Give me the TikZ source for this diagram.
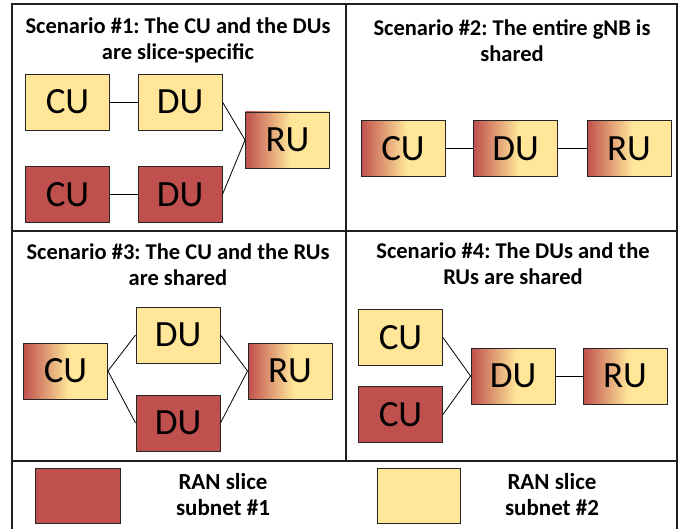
\documentclass[tikz,border=0pt]{standalone}
\usepackage{fontspec}
\setmainfont{Carlito}
\usetikzlibrary{calc}
\definecolor{redc}{HTML}{C0504D}
\definecolor{yellowc}{HTML}{FFE699}
\definecolor{framec}{HTML}{202020}
\pgfdeclarehorizontalshading{rugrad}{100bp}{color(0bp)=(redc); color(25bp)=(redc); color(52bp)=(yellowc); color(100bp)=(yellowc)}
\tikzset{
  unitbox/.style={draw=black!85, line width=0.9pt, minimum width=84pt, minimum height=56pt, inner sep=0pt,
     font=\fontsize{37}{40}\selectfont},
  ybox/.style={unitbox, fill=yellowc},
  rbox/.style={unitbox, fill=redc},
  gbox/.style={unitbox, shading=rugrad},
  ttl/.style={align=center, font=\fontsize{22.5}{26}\selectfont\bfseries\frenchspacing, inner sep=0pt},
  lgd/.style={align=center, font=\fontsize{23}{26}\selectfont\bfseries\frenchspacing, inner sep=0pt},
  link/.style={draw=black, line width=0.8pt},
  frame/.style={draw=framec, line width=1.3pt}
}
\begin{document}
\begin{tikzpicture}[x=1pt,y=-1pt]
\useasboundingbox (0,0) rectangle (680,529);
% frame
\draw[frame] (12,529) -- (12,4) -- (677,4) -- (677,529);
\draw[frame] (12,231) -- (677,231);
\draw[frame] (12,461) -- (677,461);
\draw[frame] (346,4) -- (346,461);
% titles
\node[ttl] (t1) at (178,40) {Scenario \#1: The CU and the DUs\\are slice-specific};
\node[ttl] (t2) at (512,41) {Scenario \#2: The entire gNB is\\shared};
\node[ttl] (t3) at (178,265) {Scenario \#3: The CU and the RUs\\are shared};
\node[ttl] (t4) at (513,264) {Scenario \#4: The DUs and the\\RUs are shared};
% scenario 1
\node[ybox] (cu1a) at (67.5,102) {CU};
\node[ybox] (du1a) at (180,102) {DU};
\node[gbox] (ru1) at (287.5,140) {RU};
\node[rbox] (cu1b) at (67.5,194.5) {CU};
\node[rbox] (du1b) at (180,194.5) {DU};
\draw[link] (cu1a) -- (du1a);
\draw[link] (cu1b) -- (du1b);
\draw[link] (du1a.east) -- (ru1.west);
\draw[link] (du1b.east) -- (ru1.west);
% scenario 2
\node[gbox] (cu2) at (403,148.5) {CU};
\node[gbox] (du2) at (515.5,148.5) {DU};
\node[gbox] (ru2) at (629,148.5) {RU};
\draw[link] (cu2) -- (du2);
\draw[link] (du2) -- (ru2);
% scenario 3
\node[gbox] (cu3) at (65.5,371) {CU};
\node[ybox] (du3a) at (178,335) {DU};
\node[rbox] (du3b) at (178,423) {DU};
\node[gbox] (ru3) at (290,371) {RU};
\draw[link] (cu3.east) -- (du3a.west);
\draw[link] (cu3.east) -- (du3b.west);
\draw[link] (du3a.east) -- (ru3.west);
\draw[link] (du3b.east) -- (ru3.west);
% scenario 4
\node[ybox] (cu4a) at (400.5,337.5) {CU};
\node[rbox] (cu4b) at (400.5,414.5) {CU};
\node[gbox] (du4) at (513,376) {DU};
\node[gbox] (ru4) at (625,376) {RU};
\draw[link] (cu4a.east) -- (du4.west);
\draw[link] (cu4b.east) -- (du4.west);
\draw[link] (du4) -- (ru4);
% legend
\node[unitbox, fill=redc, minimum width=85pt, minimum height=55pt] (leg1) at (77.5,495.5) {};
\node[lgd] (lt1) at (223,495) {RAN slice\\subnet \#1};
\node[unitbox, fill=yellowc, minimum width=83pt, minimum height=55pt] (leg2) at (418.5,495.5) {};
\node[lgd] (lt2) at (552,495) {RAN slice\\subnet \#2};
\end{tikzpicture}
\end{document}
